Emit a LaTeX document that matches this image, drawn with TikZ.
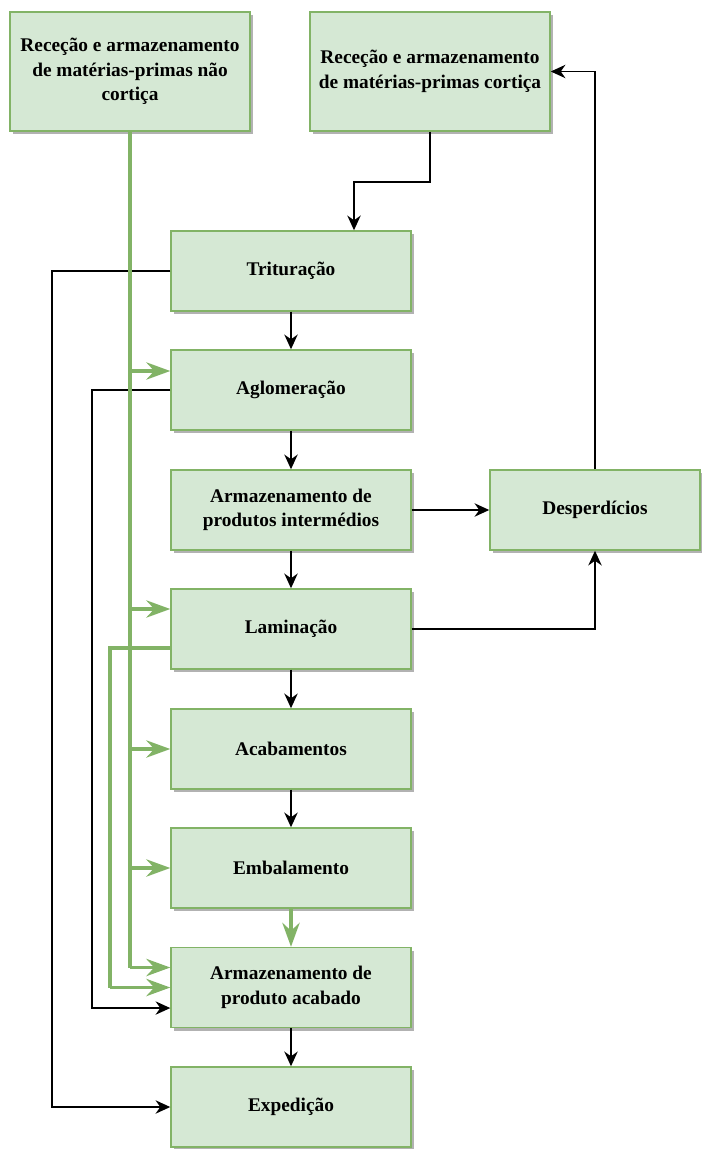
\documentclass[tikz,border=0pt]{standalone}
\usepackage{fontspec}
\setmainfont{Liberation Serif}
\usetikzlibrary{arrows.meta,shadows}
\definecolor{boxfill}{HTML}{D5E8D4}
\definecolor{boxline}{HTML}{82B366}
\tikzset{
  stage/.style={draw=boxline, fill=boxfill, line width=1.1pt,
    minimum width=180pt, minimum height=60pt, align=center,
    font=\bfseries\fontsize{14.5}{18.5}\selectfont,
    drop shadow={shadow xshift=2.5pt, shadow yshift=-2.5pt, fill=black, opacity=.3}},
  flow/.style={-{Stealth[length=11pt,width=10pt,inset=3.5pt]}, line width=1.2pt, black},
  feed/.style={-{Stealth[length=18pt,width=13pt,inset=6pt]}, line width=2.4pt, boxline},
  trunk/.style={line width=2.4pt, boxline},
}
\begin{document}
\begin{tikzpicture}[x=0.75pt,y=-0.75pt]
      \useasboundingbox (0,0) rectangle (702,1149);
      \node[stage, minimum height=89pt] (nao) at (130,71.5)
        {Receção e armazenamento\\de matérias-primas não\\cortiça};
      \node[stage, minimum height=89pt] (cort) at (430,71.5)
        {Receção e armazenamento\\de matérias-primas cortiça};
      \node[stage] (trit) at (291,271) {Trituração};
      \node[stage] (aglo) at (291,390) {Aglomeração};
      \node[stage] (intm) at (291,510) {Armazenamento de\\produtos intermédios};
      \node[stage] (lami) at (291,629) {Laminação};
      \node[stage] (acab) at (291,749) {Acabamentos};
      \node[stage] (emba) at (291,868) {Embalamento};
      \node[stage] (prod) at (291,987.5) {Armazenamento de\\produto acabado};
      \node[stage] (expe) at (291,1107) {Expedição};
      \node[stage, minimum width=157.5pt] (desp) at (595,510) {Desperdícios};
      \coordinate (bend) at (354,182);
      \coordinate (left1) at (52,0);
      \coordinate (left2) at (92,0);
      \coordinate (left3) at (110,0);
      \coordinate (ga) at ([yshift=14.25pt]aglo.west);
      \coordinate (gl) at ([yshift=15pt]lami.west);
      \coordinate (gp) at ([yshift=15pt]prod.west);
      \coordinate (bp) at ([yshift=-15.4pt]prod.west);
      \coordinate (lo) at ([yshift=-14.25pt]lami.west);
      \begin{scope}[flow]
        \draw (cort.south) |- (bend) -- (bend |- trit.north);
        \draw (trit) to (aglo);
        \draw (aglo) to (intm);
        \draw (intm) to (lami);
        \draw (lami) to (acab);
        \draw (acab) to (emba);
        \draw (prod) to (expe);
        \draw (intm) to (desp);
        \draw (lami.east) -| (desp.south);
        \draw (desp.north) |- (cort.east);
        \draw (trit.west) -- (trit.west -| left1) -- (expe.west -| left1) -- (expe.west);
        \draw (aglo.west) -- (aglo.west -| left2) -- (bp -| left2) -- (bp);
      \end{scope}
      \draw[trunk] (nao.south) -- (nao.south |- gp);
      \draw[trunk] (lo) -- (lo -| left3) -- (prod.west -| left3);
      \begin{scope}[feed]
        \draw (nao.south |- ga) to (ga);
        \draw (nao.south |- gl) to (gl);
        \draw (nao.south |- acab.west) to (acab.west);
        \draw (nao.south |- emba.west) to (emba.west);
        \draw (nao.south |- gp) to (gp);
        \draw (prod.west -| left3) to (prod.west);
        \draw (emba) to (prod);
      \end{scope}
    \end{tikzpicture}
\end{document}
